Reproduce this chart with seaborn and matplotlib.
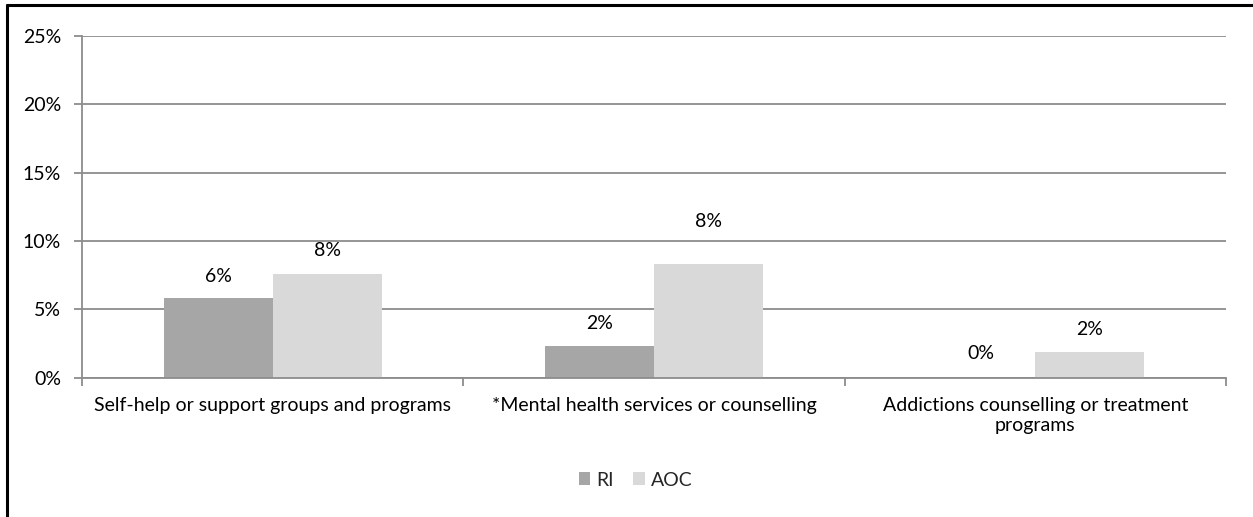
import pandas as pd
import matplotlib.pyplot as plt
import numpy as np
import seaborn as sns
from matplotlib.lines import Line2D
from matplotlib.ticker import FixedLocator

# data
categories = ["Self-help or support groups and programs",
              "*Mental health services or counselling",
              "Addictions counselling or treatment\nprograms"]
series = ["RI", "AOC"]
ri_values = [5.8, 2.3, 0.0]
aoc_values = [7.6, 8.3, 1.9]
ri_labels = ["6%", "2%", "0%"]
aoc_labels = ["8%", "8%", "2%"]
y_ticks = [0, 5, 10, 15, 20, 25]

df = pd.DataFrame({
    "category": categories * 2,
    "series": ["RI"] * 3 + ["AOC"] * 3,
    "value": ri_values + aoc_values,
})

sns.set_style("white")
plt.rcParams['font.family'] = ['Lato', 'DejaVu Sans']
fs = 14

fig = plt.figure(figsize=(12.53, 5.17), dpi=100)
ax = fig.add_axes([0.0654, 0.2694, 0.9131, 0.661])

sns.barplot(data=df, x="category", y="value", hue="series",
            palette={"RI": "#a6a6a6", "AOC": "#d9d9d9"},
            width=0.572, gap=0, saturation=1, edgecolor="none",
            ax=ax)

# data labels (the middle AOC label sits higher in the original)
pads = [[10, 10, 11], [11, 25, 10]]
for cont, labs, pp in zip(ax.containers, [ri_labels, aoc_labels], pads):
    for bar, lab, p in zip(cont, labs, pp):
        ax.annotate(lab, (bar.get_x() + bar.get_width() / 2, bar.get_height()),
                    xytext=(0, p), textcoords="offset points",
                    ha="center", va="bottom", fontsize=fs, color="black")

ax.set_xlim(-0.5, 2.5)
ax.set_ylim(0, 25)
ax.set_yticks(y_ticks)
ax.set_yticklabels([f"{t}%" for t in y_ticks], fontsize=fs, color="black")
ax.yaxis.grid(True, color="#8c8c8c", linewidth=1.3)
ax.set_axisbelow(True)

# category ticks at the boundaries
ax.xaxis.set_minor_locator(FixedLocator([-0.5, 0.5, 1.5, 2.5]))
ax.tick_params(axis="x", which="major", length=0, labelsize=fs,
               labelcolor="black", pad=14)
ax.tick_params(axis="x", which="minor", length=6, width=1.3,
               color="#8c8c8c", direction="out", bottom=True)
ax.tick_params(axis="y", length=6, width=1.3, color="#8c8c8c",
               left=True, pad=9)
for lab in ax.get_xticklabels():
    lab.set_linespacing(1.2)
ax.set_xlabel("")
ax.set_ylabel("")

for side in ["top", "right"]:
    ax.spines[side].set_visible(False)
ax.spines["left"].set_color("#8c8c8c")
ax.spines["left"].set_linewidth(1.3)
ax.spines["bottom"].set_color("#8c8c8c")
ax.spines["bottom"].set_linewidth(1.3)

# legend below the chart
handles, labels = ax.get_legend_handles_labels()
ax.legend(handles, labels, loc="center",
          bbox_to_anchor=(0.5 + 9 / 1253, 37 / 517),
          bbox_transform=fig.transFigure, ncol=2, frameon=False,
          fontsize=fs, handlelength=0.6, handleheight=0.6,
          handletextpad=0.3, columnspacing=1.0)

# outer chart border (left and top only)
fig.add_artist(Line2D([7 / 1253, 7 / 1253], [0, 1 - 5 / 517],
                      color="black", linewidth=2.2, transform=fig.transFigure))
fig.add_artist(Line2D([7 / 1253, 1], [1 - 5 / 517, 1 - 5 / 517],
                      color="black", linewidth=2.2, transform=fig.transFigure))

fig.savefig("out.png", dpi=100)
